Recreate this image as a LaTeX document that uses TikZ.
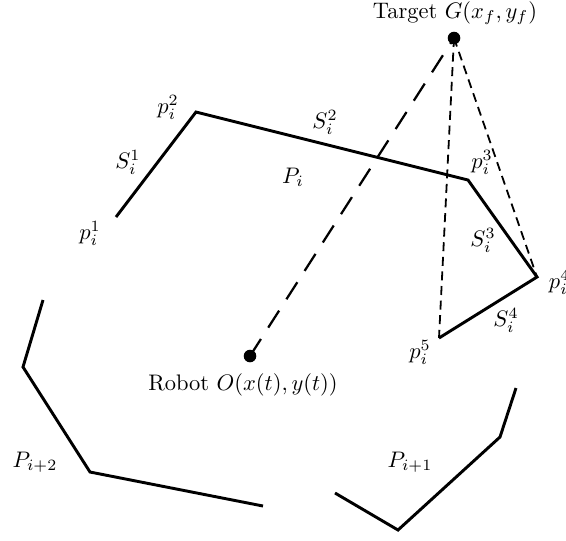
\documentclass[tikz,border=0pt]{standalone}
\usepackage{amsmath,amssymb}
\usepackage{tikz}
\usetikzlibrary{calc}

\tikzset{
  wall/.style={line width=1.3pt,line join=miter},
  sightline/.style={line width=1pt,dash pattern=on 9pt off 6pt},
  tangentline/.style={line width=0.8pt,dash pattern=on 4pt off 2.5pt},
  spot/.style={circle,fill=black,inner sep=0pt,minimum size=5.6pt}
}

\begin{document}
\begin{tikzpicture}[x=0.445pt,y=-0.445pt]
  \useasboundingbox (0,0) rectangle (566,540);
  % obstacle P_i
  \coordinate (p1) at (116,217);
  \coordinate (p2) at (196,112);
  \coordinate (p3) at (468,180);
  \coordinate (p4) at (537,277);
  \coordinate (p5) at (439,338);
  \draw[wall] (p1)--(p2)--(p3)--(p4)--(p5);
  % obstacle P_{i+2}
  \coordinate (q1) at (43,300);
  \coordinate (q2) at (23,367);
  \coordinate (q3) at (90,472);
  \coordinate (q4) at (263,506);
  \draw[wall] (q1)--(q2)--(q3)--(q4);
  % obstacle P_{i+1}
  \coordinate (r1) at (335,493);
  \coordinate (r2) at (398,530);
  \coordinate (r3) at (500,437);
  \coordinate (r4) at (516,388);
  \draw[wall] (r1)--(r2)--(r3)--(r4);
  % robot and target
  \node[spot] (goal) at (454,38) {};
  \node[spot] (robot) at (250,356) {};
  \draw[sightline] (robot.center)--(goal.center);
  \draw[tangentline] (goal.center)--(p5);
  \draw[tangentline] (goal.center)--(p4);
  \node[anchor=base west] (goallabel) at (365,18) {Target $G(x_f,y_f)$};
  \node (robotlabel) at (243,385) {Robot $O(x(t),y(t))$};
  % labels
  \node at (90,233) {$p_i^1$};
  \node at (168,107) {$p_i^2$};
  \node at (482,162) {$p_i^3$};
  \node[anchor=west] at (541,282) {$p_i^4$};
  \node at (420,352) {$p_i^5$};
  \node at (128,162) {$S_i^1$};
  \node at (325,122) {$S_i^2$};
  \node at (483,240) {$S_i^3$};
  \node at (506,320) {$S_i^4$};
  \node at (293,177) {$P_i$};
  \node at (35,462) {$P_{i+2}$};
  \node at (410,462) {$P_{i+1}$};
\end{tikzpicture}
\end{document}
